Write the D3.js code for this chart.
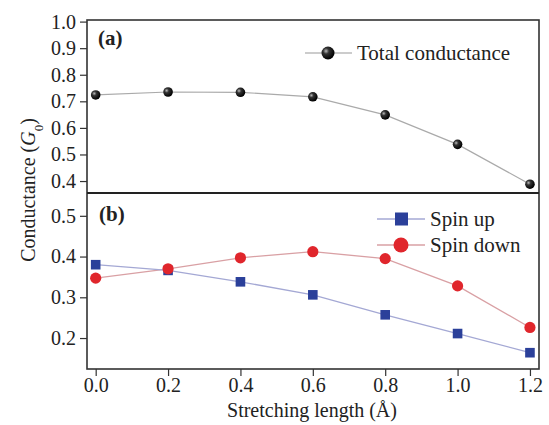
<!DOCTYPE html>
<html>
<head>
<meta charset="utf-8">
<script src="https://cdn.jsdelivr.net/npm/d3@7"></script>
<style>
  body { margin: 0; background: #fff; }
  svg text { font-family: "Liberation Serif", "DejaVu Serif", serif; fill: #222; }
</style>
</head>
<body>
<svg id="chart" width="549" height="425"></svg>
<script>
// stretching lengths (Å)
const stretch = [0.0, 0.2, 0.4, 0.6, 0.8, 1.0, 1.2];
const totalG = [0.724, 0.735, 0.734, 0.717, 0.649, 0.538, 0.388];
const spinUp = [0.380, 0.366, 0.338, 0.306, 0.257, 0.211, 0.164];
const spinDown = [0.347, 0.370, 0.397, 0.412, 0.395, 0.328, 0.226];
const xTicks = [0.0, 0.2, 0.4, 0.6, 0.8, 1.0, 1.2];
const aTicks = [0.4, 0.5, 0.6, 0.7, 0.8, 0.9, 1.0];
const bTicks = [0.2, 0.3, 0.4, 0.5];

const svg = d3.select("#chart");
const left = 87, right = 539;
const aTop = 20, aBot = 193, bTop = 193, bBot = 369;

const x = d3.scaleLinear().domain([-0.024, 1.225]).range([left, right]);
const yA = d3.scaleLinear().domain([0.355, 1.006]).range([aBot, aTop]);
const yB = d3.scaleLinear().domain([0.124, 0.556]).range([bBot, bTop]);

// gradient for the black spheres
const defs = svg.append("defs");
const grad = defs.append("radialGradient").attr("id", "ball")
  .attr("cx", "35%").attr("cy", "35%").attr("r", "65%");
grad.append("stop").attr("offset", "0%").attr("stop-color", "#bbb");
grad.append("stop").attr("offset", "35%").attr("stop-color", "#333");
grad.append("stop").attr("offset", "100%").attr("stop-color", "#000");

function yAxis(scale, ticks, minors) {
  const g = svg.append("g").attr("transform", `translate(${left},0)`);
  g.call(d3.axisLeft(scale).tickValues(minors).tickSize(4).tickFormat(""));
  g.call(d3.axisLeft(scale).tickValues(ticks).tickSize(7).tickPadding(4).tickFormat(d3.format(".1f")));
  g.selectAll(".domain").remove();
  g.selectAll("line").attr("stroke", "#333").attr("stroke-width", 1.2);
  g.selectAll("text").style("font-size", "20px");
}
yAxis(yA, aTicks, d3.range(0.35, 1.0, 0.05).map(v => +v.toFixed(2)).filter(v => v >= 0.36));
yAxis(yB, bTicks, d3.range(0.15, 0.56, 0.05).map(v => +v.toFixed(2)));

// x axis
const xg = svg.append("g").attr("transform", `translate(0,${bBot})`);
xg.call(d3.axisBottom(x).tickValues(d3.range(0, 1.25, 0.1).map(v => +v.toFixed(1))).tickSize(4).tickFormat(""));
xg.call(d3.axisBottom(x).tickValues(xTicks).tickSize(7).tickPadding(2).tickFormat(d3.format(".1f")));
xg.selectAll(".domain").remove();
xg.selectAll("line").attr("stroke", "#333").attr("stroke-width", 1.2);
xg.selectAll("text").style("font-size", "20px");

// frames
svg.append("rect").attr("x", left).attr("y", aTop).attr("width", right - left).attr("height", bBot - aTop)
  .attr("fill", "none").attr("stroke", "#333").attr("stroke-width", 1.6);
svg.append("line").attr("x1", left).attr("x2", right).attr("y1", aBot).attr("y2", aBot)
  .attr("stroke", "#222").attr("stroke-width", 1.8);

// panel (a)
const lineA = d3.line().x((d, i) => x(stretch[i])).y(d => yA(d));
svg.append("path").datum(totalG).attr("d", lineA)
  .attr("fill", "none").attr("stroke", "#aaa").attr("stroke-width", 1.2);
svg.selectAll(".ball").data(totalG).enter().append("circle")
  .attr("cx", (d, i) => x(stretch[i])).attr("cy", d => yA(d)).attr("r", 4.8)
  .attr("fill", "url(#ball)");

// panel (b)
const lineB = d3.line().x((d, i) => x(stretch[i])).y(d => yB(d));
svg.append("path").datum(spinDown).attr("d", lineB)
  .attr("fill", "none").attr("stroke", "#d9a0a4").attr("stroke-width", 1.3);
svg.append("path").datum(spinUp).attr("d", lineB)
  .attr("fill", "none").attr("stroke", "#a4a8d4").attr("stroke-width", 1.3);
svg.selectAll(".up").data(spinUp).enter().append("rect")
  .attr("x", (d, i) => x(stretch[i]) - 4.8).attr("y", d => yB(d) - 4.8)
  .attr("width", 9.6).attr("height", 9.6).attr("fill", "#2b409a");
svg.selectAll(".down").data(spinDown).enter().append("circle")
  .attr("cx", (d, i) => x(stretch[i])).attr("cy", d => yB(d)).attr("r", 5.6)
  .attr("fill", "#e0262c");

// panel labels
svg.append("text").attr("x", 98).attr("y", 45).text("(a)")
  .style("font-size", "21px").style("font-weight", "bold");
svg.append("text").attr("x", 99).attr("y", 221).text("(b)")
  .style("font-size", "21px").style("font-weight", "bold");

// legend (a)
svg.append("line").attr("x1", 305).attr("x2", 352).attr("y1", 53).attr("y2", 53)
  .attr("stroke", "#999").attr("stroke-width", 1.2);
svg.append("circle").attr("cx", 328).attr("cy", 53).attr("r", 6.5).attr("fill", "url(#ball)");
svg.append("text").attr("x", 357).attr("y", 60).text("Total conductance").style("font-size", "21px");

// legend (b)
svg.append("line").attr("x1", 377).attr("x2", 425).attr("y1", 219).attr("y2", 219)
  .attr("stroke", "#a4a8d4").attr("stroke-width", 1.3);
svg.append("rect").attr("x", 395).attr("y", 212.5).attr("width", 13).attr("height", 13).attr("fill", "#2b409a");
svg.append("text").attr("x", 430).attr("y", 226).text("Spin up").style("font-size", "21px");
svg.append("line").attr("x1", 377).attr("x2", 425).attr("y1", 245).attr("y2", 245)
  .attr("stroke", "#d9a0a4").attr("stroke-width", 1.3);
svg.append("circle").attr("cx", 401).attr("cy", 245).attr("r", 7.5).attr("fill", "#e0262c");
svg.append("text").attr("x", 430).attr("y", 252).text("Spin down").style("font-size", "21px");

// axis titles
svg.append("text").attr("x", 312).attr("y", 417).attr("text-anchor", "middle")
  .style("font-size", "20px").text("Stretching length (Å)");
const yl = svg.append("text").attr("transform", "translate(35,190) rotate(-90)")
  .attr("text-anchor", "middle").style("font-size", "20px");
yl.append("tspan").text("Conductance (");
yl.append("tspan").style("font-style", "italic").text("G");
yl.append("tspan").attr("baseline-shift", "sub").style("font-size", "13px").text("0");
yl.append("tspan").text(")");
</script>
</body>
</html>
